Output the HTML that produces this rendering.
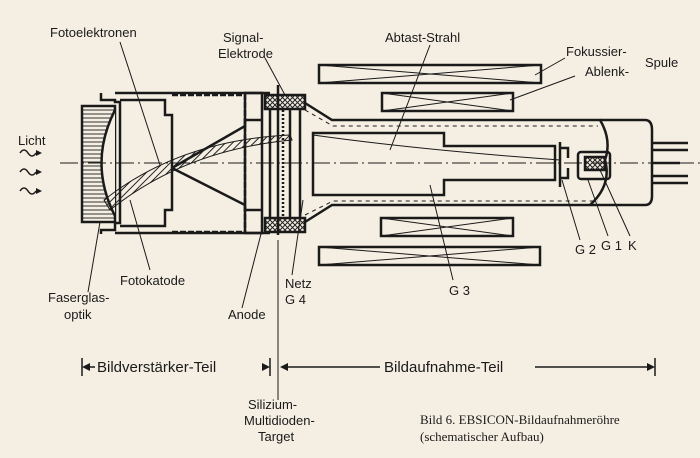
<!DOCTYPE html>
<html><head><meta charset="utf-8"><style>
html,body{margin:0;padding:0;background:#f5efe3;}
svg{display:block}
text{font-family:"Liberation Sans",sans-serif;font-size:13px;fill:#1a1a1a}
.s{font-family:"Liberation Serif",serif;font-size:13px}
</style></head><body>
<svg width="700" height="458" viewBox="0 0 700 458" xmlns="http://www.w3.org/2000/svg">
<defs>
<pattern id="h" width="4" height="4" patternUnits="userSpaceOnUse"><path d="M0 2H4" stroke="#333" stroke-width="1"/></pattern>
<pattern id="d" width="5" height="5" patternUnits="userSpaceOnUse" patternTransform="rotate(45)"><path d="M0 0V5" stroke="#222" stroke-width="2"/></pattern>
<pattern id="x" width="5" height="5" patternUnits="userSpaceOnUse"><path d="M0 0L5 5M5 0L0 5" stroke="#222" stroke-width="1"/></pattern>
</defs>
<g fill="none" stroke="#1a1a1a" stroke-width="2.5">
<rect x="319" y="65" width="222" height="18"/><path d="M319 65L541 83M319 83L541 65" stroke-width="1"/>
<rect x="382" y="93" width="131" height="18"/><path d="M382 93L513 111M382 111L513 93" stroke-width="1"/>
<rect x="381" y="218" width="132" height="18"/><path d="M381 218L513 236M381 236L513 218" stroke-width="1"/>
<rect x="319" y="247" width="221" height="18"/><path d="M319 247L540 265M319 265L540 247" stroke-width="1"/>
<path d="M305 103L332 120H600Q612 140 605 160Q612 185 590 205H332L305 222"/>
<path d="M305 110L333 126H598M305 215L333 201H598" stroke-width="1" stroke-dasharray="4 4"/>
<path d="M600 120H645Q652 120 652 130V196Q652 205 645 205H590"/>
<path d="M313 133H444V146H555V180H444V195H313Z"/>
<path d="M560 142V187M560 148H568V158M560 178H568V168"/>
<rect x="578" y="152" width="32" height="27" rx="3"/>
<rect x="585" y="157" width="20" height="13" fill="url(#x)"/>
<path d="M652 143H688M652 150H688M652 176H688M652 183H688M652 163H680"/>
<rect x="82" y="106" width="33" height="116" fill="url(#h)"/>
<path d="M115 110Q88 163 115 216" fill="#f5efe3"/>
<path d="M101 93V100H115V102H120V223H115V230H101V234"/>
<path d="M115 93H270M115 233H270M120 100H165V115H172V210H165V226H120"/>
<path d="M172 95H245V233M172 232H245" stroke-dasharray="6 2"/>
<path d="M172 168L245 126V120H262M172 168L245 205V210H262"/>
<rect x="245" y="93" width="17" height="140"/>
<rect x="265" y="95" width="40" height="14" fill="url(#x)"/>
<rect x="265" y="218" width="40" height="14" fill="url(#x)"/>
<path d="M270 110V218M278 85V235M290 110V218M300 110V218"/>
<path d="M283 110V218" stroke-dasharray="2 2"/>
<path d="M104 200Q180 140 290 135L292 140Q185 150 110 210Z" fill="url(#d)" stroke-width="1"/>
<path d="M60 163H700" stroke-width="1" stroke-dasharray="18 4 2 4"/>
<path d="M313 135Q420 150 560 160" stroke-width="1"/>
<g stroke-width="1">
<path d="M120 42L160 165M265 58L285 95M430 45L390 150M565 58L535 75M575 76L510 100"/>
<path d="M150 270L130 200M88 292L100 222M242 308L262 230M292 275L303 200M453 280L430 185M580 240L562 180M608 236L588 180M630 236L600 170"/>
<path d="M278 240V400"/>
</g>
<path d="M82 358V376M655 358V376M270 358V376" stroke-width="1.5"/>
<path d="M85 367H95M262 367H268M288 367H380M535 367H652" stroke-width="1.5"/>
<path d="M20 153q4-6 8 0t8 0M20 172q4-6 8 0t8 0M20 191q4-6 8 0t8 0" stroke-width="1.5"/>
</g>
<g fill="#1a1a1a">
<path d="M36 150l6 3-6 3zM36 169l6 3-6 3zM36 188l6 3-6 3z"/>
<path d="M82 367l8-4v8zM270 367l-8-4v8zM280 367l8-4v8zM655 367l-8-4v8z"/>
</g>
<text x="50" y="37">Fotoelektronen</text>
<text x="223" y="42">Signal-</text>
<text x="218" y="58">Elektrode</text>
<text x="385" y="42">Abtast-Strahl</text>
<text x="566" y="56">Fokussier-</text>
<text x="645" y="67">Spule</text>
<text x="585" y="76">Ablenk-</text>
<text x="18" y="145">Licht</text>
<text x="120" y="285">Fotokatode</text>
<text x="48" y="302">Faserglas-</text>
<text x="64" y="319">optik</text>
<text x="228" y="319">Anode</text>
<text x="285" y="288">Netz</text>
<text x="285" y="304">G 4</text>
<text x="449" y="295">G 3</text>
<text x="575" y="254">G 2</text>
<text x="601" y="250">G 1</text>
<text x="628" y="250">K</text>
<text x="97" y="372" style="font-size:15px">Bildverstärker-Teil</text>
<text x="384" y="372" style="font-size:15px">Bildaufnahme-Teil</text>
<text x="248" y="409">Silizium-</text>
<text x="244" y="425">Multidioden-</text>
<text x="258" y="441">Target</text>
<text class="s" x="420" y="424">Bild 6. EBSICON-Bildaufnahmeröhre</text>
<text class="s" x="420" y="441">(schematischer Aufbau)</text>
</svg>
</body></html>
